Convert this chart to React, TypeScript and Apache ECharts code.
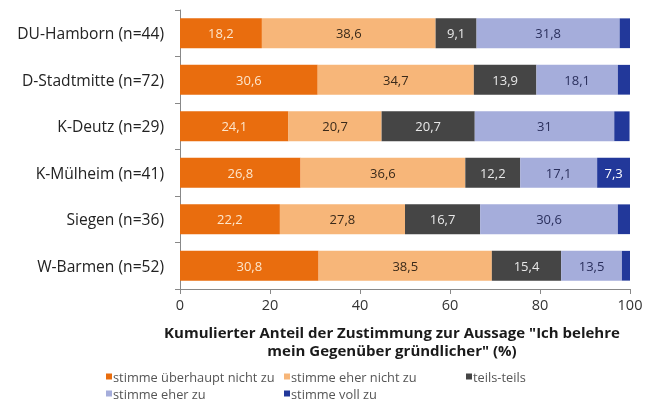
import React, { useEffect, useRef } from "react";
import * as echarts from "echarts";

const categories = [
  "DU-Hamborn (n=44)",
  "D-Stadtmitte (n=72)",
  "K-Deutz (n=29)",
  "K-Mülheim (n=41)",
  "Siegen (n=36)",
  "W-Barmen (n=52)",
];
const seriesNames = [
  "stimme überhaupt nicht zu",
  "stimme eher nicht zu",
  "teils-teils",
  "stimme eher zu",
  "stimme voll zu",
];
const ueberhauptNicht = [18.2, 30.6, 24.1, 26.8, 22.2, 30.8];
const eherNicht = [38.6, 34.7, 20.7, 36.6, 27.8, 38.5];
const teilsTeils = [9.1, 13.9, 20.7, 12.2, 16.7, 15.4];
const eherZu = [31.8, 18.1, 31, 17.1, 30.6, 13.5];
const vollZu = [2.3, 2.7, 3.4, 7.3, 2.8, 1.9];
const xTicks = [0, 20, 40, 60, 80, 100];

const colors = ["#E96D0E", "#F7B679", "#454545", "#A5ADDB", "#22389A"];
const labelColors = ["#FDE6CC", "#3A2A1A", "#E8E8E8", "#2A2F5C", "#FFFFFF"];
const FONT = "'Open Sans', 'Noto Sans', sans-serif";

export default function App() {
  const ref = useRef<HTMLDivElement>(null);
  useEffect(() => {
    if (!ref.current) return;
    const chart = echarts.init(ref.current, null, { renderer: "svg" });
    const allData = [ueberhauptNicht, eherNicht, teilsTeils, eherZu, vollZu];
    const legendCols = [
      { left: 106, top: 370 },
      { left: 284, top: 370 },
      { left: 466, top: 370 },
      { left: 106, top: 387 },
      { left: 284, top: 387 },
    ];
    chart.setOption({
      animation: false,
      textStyle: { fontFamily: FONT },
      title: {
        text: 'Kumulierter Anteil der Zustimmung zur Aussage "Ich belehre\nmein Gegenüber gründlicher" (%)',
        left: 387,
        top: 318,
        textAlign: "center",
        textStyle: {
          fontFamily: FONT,
          fontSize: 15,
          fontWeight: "bold",
          color: "#1a1a1a",
          lineHeight: 18,
          align: "center",
        },
      },
      legend: seriesNames.map((n, i) => ({
        data: [n],
        left: legendCols[i].left,
        top: legendCols[i].top,
        itemWidth: 6,
        itemHeight: 6,
        icon: "rect",
        padding: 0,
        textStyle: { fontFamily: FONT, fontSize: 12.8, color: "#555", padding: [0, 0, 0, -4] },
      })),
      grid: { left: 180, right: 31, top: 10, bottom: 118 },
      xAxis: {
        type: "value",
        min: xTicks[0],
        max: xTicks[xTicks.length - 1],
        interval: 20,
        splitLine: { show: false },
        axisLine: { show: true, lineStyle: { color: "#888", width: 1 } },
        axisTick: { show: true, length: 5, lineStyle: { color: "#888" } },
        axisLabel: { fontFamily: FONT, fontSize: 14.5, color: "#333", margin: 8 },
      },
      yAxis: {
        type: "category",
        data: categories,
        inverse: true,
        axisLine: { show: true, lineStyle: { color: "#888", width: 1 } },
        axisTick: { show: true, length: 5, lineStyle: { color: "#888" } },
        axisLabel: { fontFamily: FONT, fontSize: 15.6, color: "#222", margin: 16 },
      },
      series: seriesNames.map((name, i) => ({
        name,
        type: "bar",
        stack: "total",
        barWidth: "64%",
        itemStyle: { color: colors[i] },
        data: allData[i].map((v) => ({
          value: v,
          label: { show: v >= 5 },
        })),
        label: {
          position: "inside",
          fontFamily: FONT,
          fontSize: 13,
          color: labelColors[i],
          formatter: (p: any) => String(p.value).replace(".", ","),
        },
      })),
    });
    return () => chart.dispose();
  }, []);
  return (
    <div
      ref={ref}
      style={{ position: "fixed", left: 0, top: 0, width: 661, height: 407 }}
    />
  );
}
